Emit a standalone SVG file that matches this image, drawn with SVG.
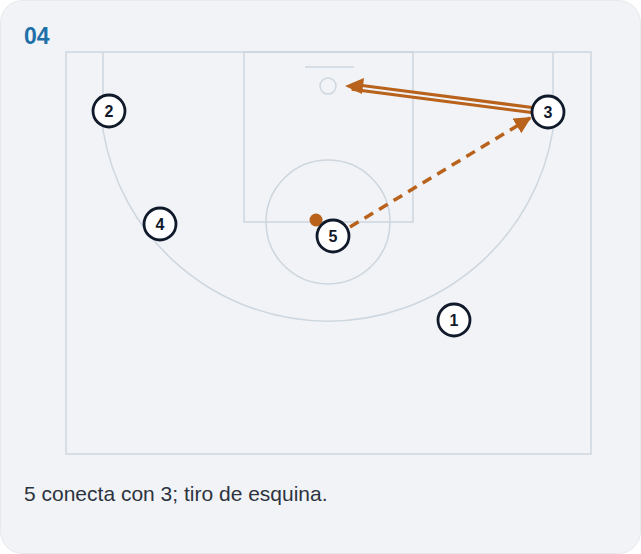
<svg xmlns="http://www.w3.org/2000/svg" width="641" height="554" viewBox="0 0 641 554">
<style>
.court{fill:none;stroke:#cdd6de;stroke-width:1.5}
.pl circle{fill:#fff;stroke:#111a2b;stroke-width:2.8}
.pl text{font-family:"Liberation Sans",Arial,sans-serif;font-size:16px;font-weight:bold;fill:#111a2b;text-anchor:middle}
.act{stroke:#b8621b;fill:none}
</style>
<defs>
<marker id="ah2" viewBox="0 0 10 10" refX="9" refY="5" markerWidth="17" markerHeight="17" markerUnits="userSpaceOnUse" orient="auto">
<path d="M0,0 L10,5 L0,10 Z" fill="#b8621b"/>
</marker>
</defs>
<rect width="641" height="554" fill="#ffffff"/>
<rect x="0.5" y="0.5" width="640" height="553" rx="22" fill="#f1f3f6" stroke="#e6e9ed"/>
<text x="24" y="44" font-family="Liberation Sans,Arial,sans-serif" font-size="23" font-weight="bold" fill="#1f6fa8">04</text>
<g id="court">
<rect class="court" x="66" y="52" width="525" height="402"/>
<rect class="court" x="244" y="52" width="169" height="170"/>
<circle class="court" cx="328" cy="222" r="62"/>
<line class="court" x1="305" y1="67" x2="354" y2="67"/>
<circle class="court" cx="328" cy="86" r="8"/>
<path class="court" d="M103,52 L103,130 A228,228 0 0 0 553,130 L553,52"/>
</g>
<g id="connectors">
<g id="handoff">
<path class="act" d="M532,110 L352,86.7" stroke-width="8"/>
<path d="M532,110 L358,87.5" stroke="#f1f3f6" stroke-width="2" fill="none"/>
<path d="M345,86 L364,78 L362,94 Z" fill="#b8621b"/>
</g>
<path class="act" d="M350,227 L530,118" stroke-width="3.5" stroke-dasharray="10,7" marker-end="url(#ah2)"/>
<circle cx="316" cy="220" r="6.5" fill="#b8621b"/>
</g>
<g id="p1" class="pl"><circle cx="454" cy="320" r="16"/><text x="454" y="326">1</text></g>
<g id="p2" class="pl"><circle cx="109" cy="111" r="16"/><text x="109" y="117">2</text></g>
<g id="p3" class="pl"><circle cx="548" cy="112" r="16"/><text x="548" y="118">3</text></g>
<g id="p4" class="pl"><circle cx="160" cy="224" r="16"/><text x="160" y="230">4</text></g>
<g id="p5" class="pl"><circle cx="333" cy="236" r="16"/><text x="333" y="242">5</text></g>
<text x="24" y="501" font-family="Liberation Sans,Arial,sans-serif" font-size="21" fill="#2d3340">5 conecta con 3; tiro de esquina.</text>
</svg>
